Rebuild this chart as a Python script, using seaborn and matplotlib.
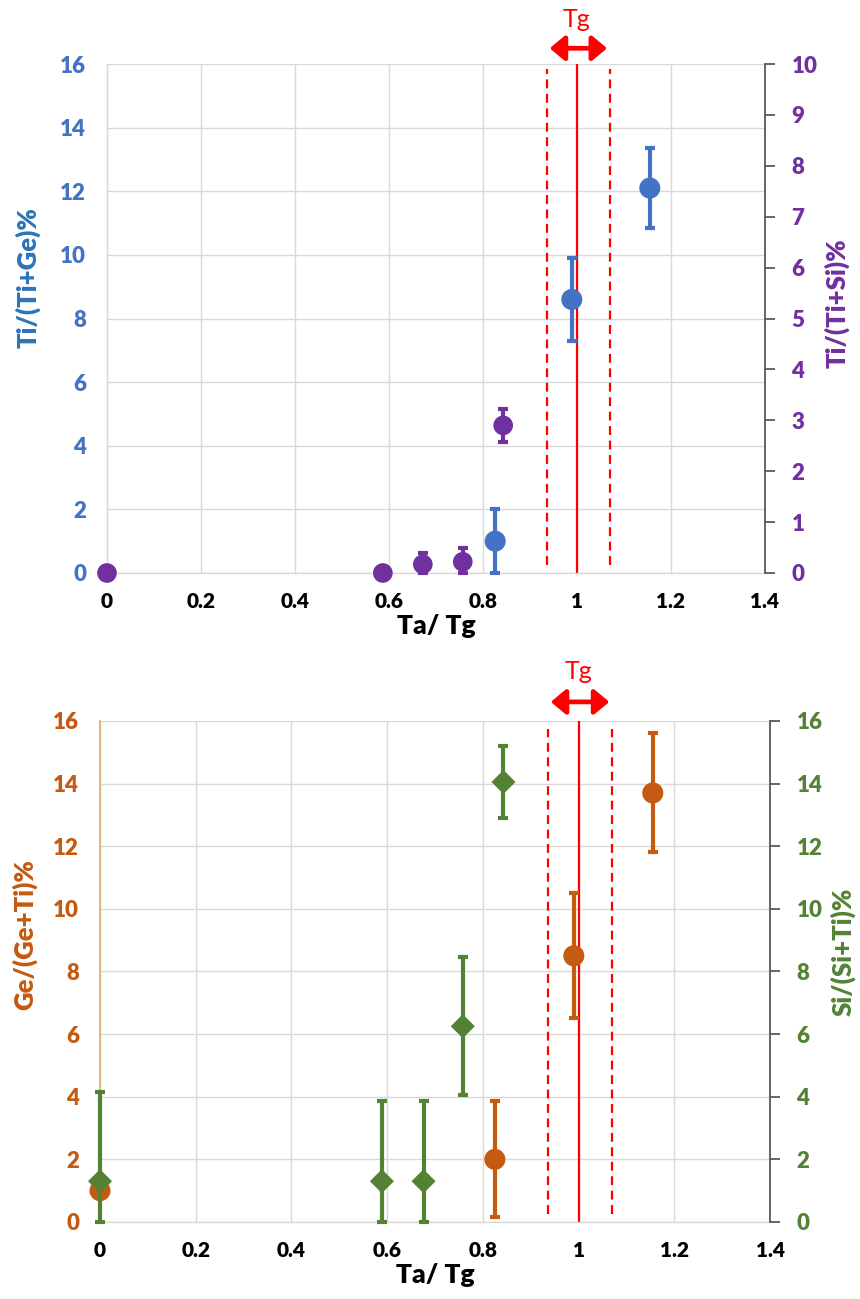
import matplotlib
matplotlib.use("Agg")
import matplotlib.pyplot as plt
import seaborn as sns
import numpy as np
from matplotlib.patches import FancyArrowPatch

sns.set_theme(style="white")
plt.rcParams["font.family"] = ["Lato", "DejaVu Sans"]
plt.rcParams["font.weight"] = "bold"

# ---- data: upper panel ----
ta_tige = [0.826, 0.989, 1.155]
ti_tige = [1.0, 8.6, 12.1]
ti_tige_err = [1.0, 1.3, 1.27]

ta_tisi = [0.0, 0.587, 0.672, 0.757, 0.843]
ti_tisi = [0.0, 0.0, 0.17, 0.22, 2.9]
ti_tisi_lo = [0.0, 0.0, 0.17, 0.22, 0.33]
ti_tisi_hi = [0.0, 0.0, 0.22, 0.27, 0.33]

# ---- data: lower panel ----
ta_gegeti = [0.0, 0.825, 0.99, 1.155]
ge_geti = [1.0, 2.0, 8.5, 13.7]
ge_geti_err = [0.0, 1.85, 2.0, 1.9]

ta_sisiti = [0.0, 0.589, 0.676, 0.758, 0.843]
si_siti = [1.3, 1.3, 1.3, 6.25, 14.05]
si_siti_lo = [1.3, 1.3, 1.3, 2.2, 1.15]
si_siti_hi = [2.85, 2.55, 2.55, 2.2, 1.15]

x_ticks = [0, 0.2, 0.4, 0.6, 0.8, 1.0, 1.2, 1.4]
x_ticklabels = ["0", "0.2", "0.4", "0.6", "0.8", "1", "1.2", "1.4"]
tg_center, tg_low, tg_high = 1.0, 0.936, 1.07

BLUE = "#4472C4"
BLUE_LABEL = "#2E75B6"
PURPLE = "#7030A0"
ORANGE = "#C55A11"
GREEN = "#548235"
RED = "#FF0000"
GRID = "#D9D9D9"
W = "heavy"

fig = plt.figure(figsize=(8.6, 12.99), dpi=100)


def style_panel(ax, axr, left_color, right_color, left_label, right_label,
                right_ticks, right_lim, left_spine_color, label_color,
                left_pos, right_pos):
    ax.set_xlim(0, 1.4)
    ax.set_ylim(0, 16)
    ax.set_xticks(x_ticks)
    ax.set_xticklabels(x_ticklabels)
    ax.set_yticks(np.arange(0, 17, 2))
    ax.grid(True, color=GRID, lw=1)
    ax.set_axisbelow(True)
    for s in ["top", "right"]:
        ax.spines[s].set_visible(False)
    ax.spines["left"].set_color(left_spine_color)
    ax.spines["bottom"].set_color(GRID)
    ax.spines["left"].set_linewidth(1)
    ax.spines["bottom"].set_linewidth(1)
    ax.tick_params(axis="y", length=0, pad=15, labelsize=16, labelcolor=left_color)
    ax.tick_params(axis="x", length=0, pad=14, labelsize=15, labelcolor="black")
    for t in ax.get_xticklabels() + ax.get_yticklabels():
        t.set_fontweight(W)
    ax.set_xlabel("Ta/ Tg", fontsize=19, fontweight=W, color="black", labelpad=2)
    ax.set_ylabel(left_label, fontsize=18.5, fontweight=W, color=label_color)
    ax.yaxis.set_label_coords(*left_pos)
    ax.yaxis.label.set_va("center")

    axr.set_ylim(*right_lim)
    axr.set_yticks(right_ticks)
    for s in ["top", "left", "bottom"]:
        axr.spines[s].set_visible(False)
    axr.spines["right"].set_color("#595959")
    axr.spines["right"].set_linewidth(1.3)
    axr.tick_params(axis="y", direction="out", length=7, width=1.3, color="#595959",
                    pad=12, labelsize=16, labelcolor=right_color, right=True)
    for t in axr.get_yticklabels():
        t.set_fontweight(W)
    axr.set_ylabel(right_label, fontsize=18.5, fontweight=W, color=right_color,
                   rotation=90)
    axr.yaxis.set_label_coords(*right_pos)
    axr.yaxis.label.set_va("center")
    axr.grid(False)


def tg_marker(ax, arrow_y, text_y, dash_top):
    ax.axvline(tg_center, color=RED, lw=1.6, zorder=1)
    for xv in (tg_low, tg_high):
        ax.plot([xv, xv], [0.25, dash_top], color=RED, lw=1.6, ls=(0, (4, 2.5)),
                zorder=1)
    arr = FancyArrowPatch((tg_low, arrow_y), (tg_high, arrow_y),
                          transform=ax.get_xaxis_transform(),
                          arrowstyle="<|-|>,head_length=0.6,head_width=0.5",
                          mutation_scale=15, lw=3.4, color=RED, clip_on=False)
    ax.add_patch(arr)
    ax.text(tg_center, text_y, "Tg", transform=ax.get_xaxis_transform(),
            ha="center", va="center", color=RED, fontsize=18, fontweight="normal")


# ---- upper panel ----
ax1 = fig.add_axes([0.1244, 0.5589, 0.7651, 0.3918])
ax1r = ax1.twinx()
style_panel(ax1, ax1r, BLUE, PURPLE, "Ti/(Ti+Ge)%", "Ti/(Ti+Si)%",
            list(range(0, 11)), (0, 10), GRID, BLUE_LABEL,
            (-0.12, 0.58), (1.109, 0.53))
tg_marker(ax1, 1.031, 1.087, 15.85)

ax1.errorbar(ta_tige, ti_tige, yerr=ti_tige_err, fmt="none", ecolor=BLUE,
             elinewidth=3, capsize=3.5, capthick=3, zorder=3, clip_on=False)
sns.scatterplot(x=ta_tige, y=ti_tige, ax=ax1, color=BLUE, s=230,
                edgecolor="none", zorder=4, clip_on=False, legend=False)

ax1r.errorbar(ta_tisi, ti_tisi, yerr=[ti_tisi_lo, ti_tisi_hi], fmt="none",
              ecolor=PURPLE, elinewidth=3, capsize=3.5, capthick=3, zorder=3,
              clip_on=False)
sns.scatterplot(x=ta_tisi, y=ti_tisi, ax=ax1r, color=PURPLE, s=200,
                edgecolor="none", zorder=4, clip_on=False, legend=False)
ax1r.set_xlim(0, 1.4)

# ---- lower panel ----
ax2 = fig.add_axes([0.1163, 0.0593, 0.7791, 0.3857])
ax2r = ax2.twinx()
style_panel(ax2, ax2r, ORANGE, GREEN, "Ge/(Ge+Ti)%", "Si/(Si+Ti)%",
            list(range(0, 17, 2)), (0, 16), "#E0B87A", ORANGE,
            (-0.112, 0.573), (1.109, 0.539))
ax2.spines["left"].set_linewidth(1.5)
tg_marker(ax2, 1.038, 1.098, 15.75)

ax2.errorbar(ta_gegeti, ge_geti, yerr=ge_geti_err, fmt="none", ecolor=ORANGE,
             elinewidth=3, capsize=3.5, capthick=3, zorder=3, clip_on=False)
sns.scatterplot(x=ta_gegeti, y=ge_geti, ax=ax2, color=ORANGE, s=230,
                edgecolor="none", zorder=4, clip_on=False, legend=False)

ax2r.errorbar(ta_sisiti, si_siti, yerr=[si_siti_lo, si_siti_hi], fmt="none",
              ecolor=GREEN, elinewidth=3, capsize=3.5, capthick=3, zorder=3,
              clip_on=False)
sns.scatterplot(x=ta_sisiti, y=si_siti, ax=ax2r, color=GREEN, marker="D", s=150,
                edgecolor="none", zorder=4, clip_on=False, legend=False)
ax2r.set_xlim(0, 1.4)

fig.savefig("out.png", dpi=100, facecolor="white")
